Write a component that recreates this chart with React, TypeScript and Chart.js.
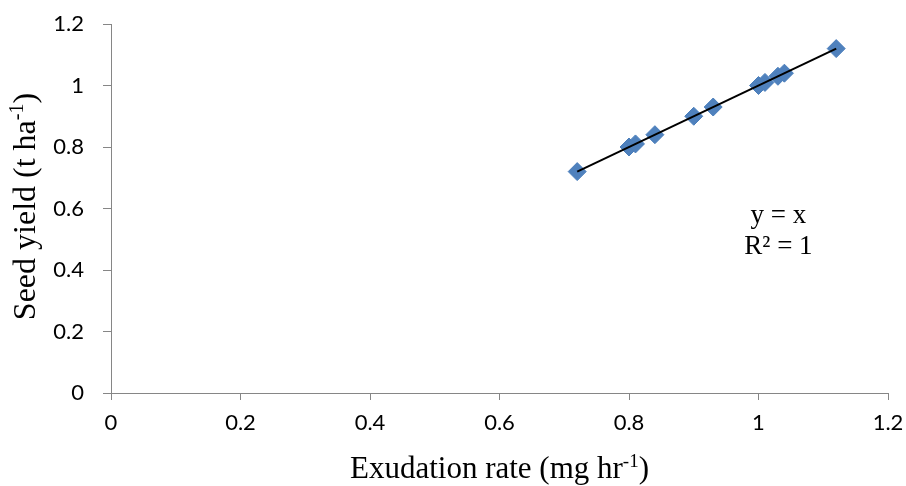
import React, { useEffect, useRef } from 'react';
import { Chart, registerables } from 'chart.js';

Chart.register(...registerables);

// Data
const exudationRate = [0.72, 0.8, 0.81, 0.84, 0.9, 0.93, 1.0, 1.01, 1.03, 1.04, 1.12];
const seedYield = [0.72, 0.8, 0.81, 0.84, 0.9, 0.93, 1.0, 1.01, 1.03, 1.04, 1.12];
const trendX = [0.72, 1.12];
const trendY = [0.72, 1.12];
const equationLines = ['y = x', 'R² = 1'];
const xTitleParts = ['Exudation rate (mg hr', '-1', ')'];
const yTitleParts = ['Seed yield (t ha', '-1', ')'];

const SERIF = "'Liberation Serif', 'Times New Roman', serif";
const SANS = "Lato, 'Open Sans', 'Liberation Sans', sans-serif";

function drawSupText(
  ctx: CanvasRenderingContext2D,
  parts: string[],
  cx: number,
  baseline: number,
  size: number
) {
  const mainFont = `${size}px ${SERIF}`;
  const supSize = Math.round(size * 0.62);
  const supFont = `${supSize}px ${SERIF}`;
  ctx.font = mainFont;
  const w0 = ctx.measureText(parts[0]).width;
  const w2 = ctx.measureText(parts[2]).width;
  ctx.font = supFont;
  const w1 = ctx.measureText(parts[1]).width;
  const total = w0 + w1 + w2;
  let x = cx - total / 2;
  ctx.textAlign = 'left';
  ctx.textBaseline = 'alphabetic';
  ctx.fillStyle = '#000';
  ctx.font = mainFont;
  ctx.fillText(parts[0], x, baseline);
  x += w0;
  ctx.font = supFont;
  ctx.fillText(parts[1], x, baseline - size * 0.36);
  x += w1;
  ctx.font = mainFont;
  ctx.fillText(parts[2], x, baseline);
}

const titlesPlugin = {
  id: 'customTitles',
  afterDraw(chart: any) {
    const ctx: CanvasRenderingContext2D = chart.ctx;
    const area = chart.chartArea;
    ctx.save();
    // x-axis title
    drawSupText(ctx, xTitleParts, (area.left + area.right) / 2, 478, 31);
    // y-axis title (rotated)
    ctx.save();
    ctx.translate(35, (area.top + area.bottom) / 2 - 2);
    ctx.rotate(-Math.PI / 2);
    drawSupText(ctx, yTitleParts, 0, 0, 32);
    ctx.restore();
    // trendline equation
    ctx.font = `27px ${SERIF}`;
    ctx.fillStyle = '#000';
    ctx.textAlign = 'center';
    ctx.textBaseline = 'alphabetic';
    const ex = area.left + (area.right - area.left) * 0.859;
    ctx.fillText(equationLines[0], ex, 223);
    ctx.fillText(equationLines[1], ex, 254);
    ctx.restore();
  },
};

function zeroPadding(s: any) {
  s.paddingTop = 0;
  s.paddingBottom = 0;
  s.paddingLeft = 0;
  s.paddingRight = 0;
}

export default function App() {
  const ref = useRef<HTMLCanvasElement | null>(null);

  useEffect(() => {
    document.body.style.margin = '0';
    const canvas = ref.current;
    if (!canvas) return;
    const chart = new Chart(canvas, {
      type: 'scatter',
      data: {
        datasets: [
          {
            label: 'Seed yield',
            data: exudationRate.map((x, i) => ({ x, y: seedYield[i] })),
            pointStyle: 'rectRot',
            pointRadius: 9,
            pointHoverRadius: 9,
            backgroundColor: '#4F81BD',
            borderColor: '#4A7EBB',
            borderWidth: 1,
            showLine: false,
            order: 2,
          },
          {
            label: 'Linear',
            data: trendX.map((x, i) => ({ x, y: trendY[i] })),
            showLine: true,
            borderColor: '#000000',
            borderWidth: 2,
            pointRadius: 0,
            fill: false,
            order: 1,
          },
        ],
      },
      options: {
        animation: false,
        responsive: false,
        devicePixelRatio: 1,
        layout: { padding: { left: 0, top: 24, right: 18, bottom: 0 } },
        plugins: {
          legend: { display: false },
          tooltip: { enabled: false },
          title: { display: false },
        },
        scales: {
          x: {
            type: 'linear',
            min: 0,
            max: 1.2,
            afterFit: (s: any) => {
              s.height = 93;
              zeroPadding(s);
            },
            ticks: {
              stepSize: 0.2,
              padding: 10,
              color: '#000',
              font: { family: SANS, size: 22 },
              callback: (v: any) => String(Math.round(Number(v) * 10) / 10),
            },
            grid: {
              drawOnChartArea: false,
              drawTicks: true,
              tickLength: 7,
              color: '#868686',
            },
            border: { color: '#868686', width: 1 },
          },
          y: {
            type: 'linear',
            min: 0,
            max: 1.2,
            afterFit: (s: any) => {
              s.width = 111;
              zeroPadding(s);
            },
            ticks: {
              stepSize: 0.2,
              padding: 19,
              color: '#000',
              font: { family: SANS, size: 22 },
              callback: (v: any) => String(Math.round(Number(v) * 10) / 10),
            },
            grid: {
              drawOnChartArea: false,
              drawTicks: true,
              tickLength: 8,
              color: '#868686',
            },
            border: { color: '#868686', width: 1 },
          },
        },
      },
      plugins: [titlesPlugin],
    });
    return () => chart.destroy();
  }, []);

  return (
    <div style={{ width: 906, height: 486, overflow: 'hidden', background: '#fff' }}>
      <canvas ref={ref} width={906} height={486} style={{ display: 'block' }} />
    </div>
  );
}
